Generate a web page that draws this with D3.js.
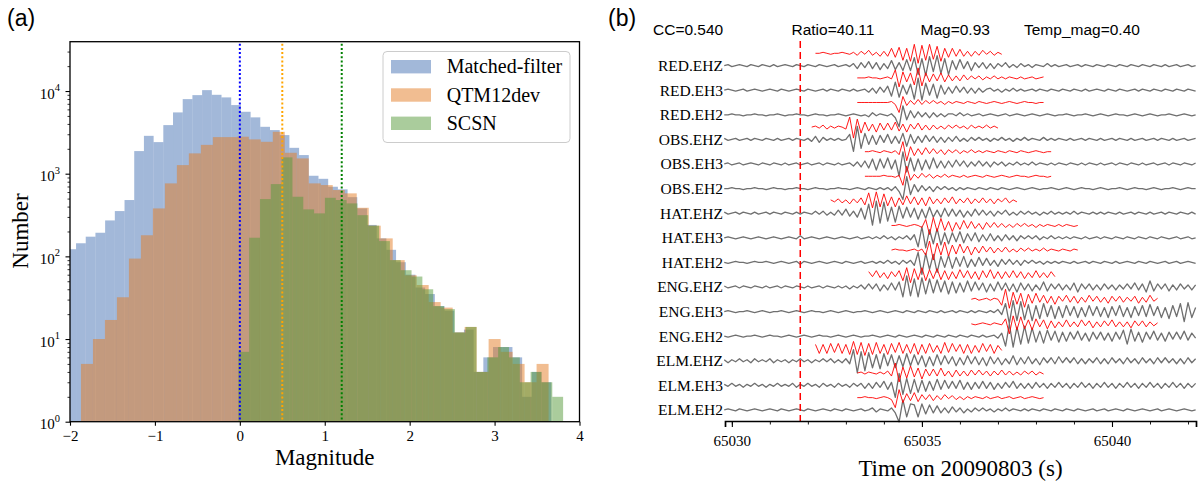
<!DOCTYPE html>
<html>
<head>
<meta charset="utf-8">
<script src="https://cdn.jsdelivr.net/npm/d3@7"></script>
<style>
  body { margin: 0; background: #fff; }
  svg { display: block; }
</style>
</head>
<body>
<div id="fig"></div>
<script>
// ---------- panel (a): magnitude histograms ----------
const seriesNames = ["Matched-filter", "QTM12dev", "SCSN"];

// bin start (magnitude) and bin width of each histogram
const blueStart = -2.043, blueWidth = 0.1142;
const orangeStart = -1.871, orangeWidth = 0.1412;
const greenStart = -0.018, greenWidth = 0.1275;

const blueCounts = [122,144,173,193,272,353,480,1877,2870,2410,3870,5510,7980,8920,10250,9000,8370,6760,5610,4800,
  3690,3370,2930,2055,1680,944,867,695,646,520,380,240,165,120,85,60,42,35,25,22,12,13,4,6,8,8,6,2,4,3];
const orangeCounts = [5,10,17,32,94,180,380,763,1270,1760,2230,2770,2770,2800,2600,2430,3210,1790,1530,763,
  728,634,578,387,235,165,90,59,45,28,24,12,14,4,10,7,5,3,5];
const greenCounts = [7,168,493,748,1575,526,370,331,511,480,437,315,235,153,90,68,57,40,25,23,12,14,4,6,8,6,3,4,3,2];

// completeness magnitudes (dotted lines)
const mcValues = [0.0, 0.5, 1.2];
const xTicksA = [-2, -1, 0, 1, 2, 3, 4];
const yMajorA = [1, 10, 100, 1000, 10000];

// ---------- panel (b): waveforms ----------
const stations = ["RED.EHZ","RED.EH3","RED.EH2","OBS.EHZ","OBS.EH3","OBS.EH2","HAT.EHZ","HAT.EH3","HAT.EH2",
  "ENG.EHZ","ENG.EH3","ENG.EH2","ELM.EHZ","ELM.EH3","ELM.EH2"];
const headerText = ["CC=0.540", "Ratio=40.11", "Mag=0.93", "Temp_mag=0.40"];
const detectTime = 65031.8;
const xTicksB = [65030, 65035, 65040];

// continuous data: start 65029.8 s, 0.1 s samples
const wfStart = 65029.8, wfDt = 0.1;
const wf_RED_EHZ = [0,1,-1,0,1,0,-1,1,0,-1, 1,0,-1,1,-1,0,1,0,-1,1, 0,-1,1,0,-1,1,0,-1,0,1, -1,0,1,-1,2,-3,3,-2,4,-3, 3,-4,2,-3,5,-4,3,-5,6,-5, 8,-9,7,-10,9,-6,10,-8,7,-9, 5,-4,6,-3,4,-5,3,-2,3,-3, 2,-3,2,-1,3,-2,1,-2,2,-1, 1,-2,1,0,-1,2,-1,1,-1,0, 1,-1,0,1,-1,1,0,-1,1,0, -1,1,0,-1,1,0,-1,1,0,-1, 1,0,-1,1,0,-1,1,-1,0,1, -1,0,1,-1,0];
const wf_RED_EH3 = [0,1,0,-1,0,1,-1,0,1,0, -1,0,1,0,-1,1,0,-1,0,1, 0,-1,1,0,-1,0,1,-1,1,0, -1,1,0,-1,1,-1,0,1,-2,2, -3,3,-2,4,-6,8,-7,5,-4,6, -9,12,-10,7,-5,6,-8,5,-4,3, -3,4,-2,3,-3,2,-3,2,-2,1, 2,-1,1,-2,1,-1,2,-1,1,-1, 0,1,-1,1,0,-1,1,0,-1,1, 0,-1,1,0,-1,1,-1,0,1,0, -1,1,0,-1,1,0,-1,0,1,-1, 1,0,-1,1,0,-1,1,0,-1,1, 0,-1,1,0,-1];
const wf_RED_EH2 = [0,0,1,0,0,-1,0,0,1,0, 0,-1,0,0,1,0,-1,0,0,1, 0,0,-1,0,1,0,0,-1,0,0, 1,0,-1,0,1,0,-1,0,-2,2, -1,1,0,-1,1,-3,-12,9,-5,4, -3,3,-2,2,-3,2,-2,1,-2,1, 1,-1,2,-1,1,-1,0,1,-1,0, 1,0,-1,0,1,-1,0,1,0,-1, 0,1,0,-1,0,1,0,-1,0,0, 1,0,-1,0,0,1,0,-1,0,1, 0,-1,0,1,0,0,-1,0,1,0, -1,0,1,0,-1,0,0,1,0,-1, 0,1,0,-1,0];
const wf_OBS_EHZ = [1,-1,0,1,-1,0,1,-1,1,0, -1,1,0,-1,1,-1,0,1,-1,1, 0,-1,1,-2,3,-3,2,-1,1,-1, 1,-1,0,5,-12,13,-9,6,-5,4, -5,4,-3,5,-4,3,-4,6,-7,5, -4,3,-3,4,-2,3,-3,2,-3,2, -2,3,-2,1,-2,2,-1,2,-1,1, -2,1,-1,2,-1,1,-2,1,-1,2, -1,1,0,-1,2,-1,1,-1,1,0, -1,1,-1,0,1,-1,1,0,-1,1, -1,0,1,-1,1,0,-1,1,-1,0, 1,-1,0,1,-1,1,0,-1,1,-1, 0,1,-1,0,1];
const wf_OBS_EH3 = [0,1,-1,0,1,-1,0,1,0,-1, 1,0,-1,1,0,-1,1,-1,0,1, -1,0,1,-1,0,1,-1,1,0,-1, 1,-1,0,1,-2,2,-3,3,-4,5, -6,5,-4,6,-5,4,-12,12,-8,6, -7,5,-6,4,-5,6,-4,3,-4,3, -3,4,-2,3,-3,2,-2,3,-2,2, -3,2,-1,2,-2,1,-1,2,-1,1, -1,2,-1,1,0,-1,1,-1,1,0, -1,1,0,-1,1,-1,1,0,-1,1, -1,0,1,-1,1,0,-1,1,0,-1, 1,-1,0,1,-1,0,1,-1,1,0, -1,1,0,-1,1];
const wf_OBS_EH2 = [0,0,1,0,0,-1,0,0,1,0, 0,-1,0,1,0,0,-1,0,0,1, 0,0,-1,0,1,0,0,-1,0,0, 1,0,0,-1,0,1,0,-1,1,0, -1,1,-1,1,-2,2,-3,-11,12,-6, 4,-3,3,-2,2,-3,2,-1,2,-1, 1,-2,1,-1,1,0,-1,1,0,-1, 1,0,-1,1,0,-1,0,1,0,-1, 0,1,0,-1,0,0,1,0,-1,0, 1,0,-1,0,1,0,0,-1,0,1, 0,-1,0,0,1,0,-1,0,1,0, 0,-1,0,1,0,-1,0,0,1,0, -1,0,1,0,0];
const wf_HAT_EHZ = [1,-1,0,1,-1,1,0,-1,1,-1, 0,1,-1,1,0,-1,1,0,-1,1, -1,1,0,-1,2,-1,2,-2,1,-2, 3,-2,4,-3,2,-4,5,-6,9,-12, 12,-10,11,-8,6,-9,7,-5,6,-4, 5,-6,4,-5,6,-4,3,-4,5,-3, 4,-3,3,-4,2,-3,4,-2,3,-2, 2,-3,2,-1,3,-2,1,-2,2,-1, 2,-1,1,-2,1,-1,2,-1,1,-1, 1,-1,2,-1,1,0,-1,1,-1,1, -1,1,0,-1,1,-1,0,1,-1,1, 0,-1,1,-1,0,1,-1,1,0,-1, 1,0,-1,1,-1];
const wf_HAT_EH3 = [0,1,0,-1,0,1,0,-1,0,1, 0,-1,0,1,0,-1,0,1,0,-1, 2,-1,0,1,0,-1,0,1,0,-1, 0,1,0,-1,0,1,-1,0,1,-1, 1,-1,2,-1,1,-2,1,-1,2,-2, 3,-9,11,-10,8,-6,9,-7,5,-6, 5,-4,6,-5,4,-3,5,-4,3,-3, 4,-3,2,-3,3,-2,2,-3,2,-1, 2,-1,2,-2,1,-1,2,-1,1,-1, 1,-1,1,0,-1,1,-1,0,1,-1, 1,0,-1,1,0,-1,1,0,-1,1, 0,-1,1,0,-1,1,0,-1,0,1, -1,0,1,-1,0];
const wf_HAT_EH2 = [0,-1,0,1,0,0,-1,0,1,0, 0,1,0,-1,0,1,0,-1,0,1, -2,1,0,-1,0,1,0,-1,0,1, 0,-1,1,0,-1,0,1,-1,0,1, -1,1,-1,2,-1,1,-2,2,-1,2, -3,10,-12,9,-7,8,-10,6,-5,7, -6,5,-4,6,-5,3,-4,5,-3,4, -3,2,-4,3,-2,3,-2,2,-3,2, -1,2,-1,1,-2,1,-1,1,-1,1, 0,-1,1,-1,0,1,-1,1,0,-1, 1,0,-1,1,-1,0,1,0,-1,1, 0,-1,1,0,-1,0,1,-1,0,1, -1,0,1,0,-1];
const wf_ENG_EHZ = [1,-1,0,1,-1,1,0,-1,1,0, -1,1,-1,0,1,-1,1,0,-1,1, 0,-1,1,-1,0,1,-1,1,0,-1, 1,-1,1,-2,1,-1,2,-2,3,-2, 3,-4,2,-3,4,-3,5,-10,11,-9, 8,-10,9,-7,8,-6,7,-5,6,-7, 5,-6,4,-5,6,-4,5,-3,4,-5, 3,-4,5,-3,4,-4,3,-5,4,-3, 3,-4,2,-3,5,-4,3,-2,3,-3, 2,-3,4,-5,3,-2,3,-3,2,-3, 3,-2,2,-3,2,-2,3,-2,4,-3, 3,-5,6,-4,3,-2,3,-4,2,-3, 3,-2,2,-3,2];
const wf_ENG_EH3 = [0,1,0,-1,0,0,1,0,-1,0, 1,0,-1,0,0,1,0,-1,0,1, 0,-1,0,1,0,0,-1,0,1,0, -1,0,1,0,-1,0,0,1,0,-1, 0,1,0,-1,0,1,0,-1,1,0, -1,1,0,-1,1,0,-1,1,-1,0, 1,-1,1,0,-1,1,-1,1,0,-1, 1,-1,2,-3,8,-12,11,-9,10,-8, 7,-9,6,-7,8,-5,6,-7,5,-6, 6,-4,5,-6,4,-5,6,-4,5,-5, 4,-6,5,-4,6,-5,4,-6,5,-4, 6,-5,7,-4,5,-6,4,-7,6,-5, 8,-10,9,-6,4];
const wf_ENG_EH2 = [0,-1,0,1,0,-1,0,0,1,0, -1,0,1,0,0,-1,0,1,0,-1, 0,1,0,-1,0,1,0,0,-1,0, 1,0,-1,0,1,0,-1,0,0,1, 0,-1,0,1,0,-1,1,0,-1,0, 1,0,-1,1,0,-1,1,0,-1,1, 0,-1,1,0,-1,1,0,-1,1,-1, 0,1,-2,3,-10,12,-11,9,-8,10, -7,8,-6,5,-7,6,-4,5,-6,4, -5,4,-3,5,-4,3,-5,4,-3,4, -4,3,-5,4,-3,6,-8,7,-5,4, -6,4,-3,5,-4,3,-5,4,-3,4, -3,5,-4,3,-2];
const wf_ELM_EHZ = [1,-2,1,-1,2,-1,1,-2,2,-1, 1,-1,2,-2,1,-1,1,-2,1,-1, 2,-1,1,-2,1,-1,2,-1,2,-2, 1,-2,2,-3,11,-12,9,-10,8,-7, 6,-8,7,-5,6,-7,5,-6,7,-5, 6,-4,5,-6,4,-5,6,-4,5,-3, 4,-5,3,-4,5,-3,4,-4,3,-5, 4,-3,3,-4,2,-3,5,-4,3,-3, 4,-3,2,-4,3,-2,3,-3,4,-2, 3,-2,3,-3,2,-3,2,-2,3,-3, 2,-3,3,-2,2,-3,3,-2,2,-3, 3,-2,2,-3,3,-2,3,-2,2,-3, 2,-3,3,-2,2];
const wf_ELM_EH3 = [1,-1,2,-1,1,-2,1,-1,2,-1, 1,-2,1,-1,2,-1,1,-1,2,-2, 1,-1,2,-1,1,-2,2,-1,1,-2, 2,-1,1,-2,2,-1,2,-3,2,-3, 3,-2,4,-4,3,-12,12,-9,7,-8, 6,-7,5,-6,4,-5,6,-4,5,-3, 4,-3,5,-4,3,-4,3,-3,4,-3, 3,-4,2,-3,3,-2,4,-3,2,-3, 2,-3,3,-2,2,-3,2,-2,3,-2, 2,-3,2,-2,3,-2,2,-3,2,-2, 3,-2,2,-3,2,-2,3,-2,2,-3, 2,-2,3,-2,2,-3,2,-2,3,-2, 2,-3,2,-2,2];
const wf_ELM_EH2 = [0,1,0,-1,1,0,-1,0,1,0, -1,0,1,0,-1,1,0,-1,0,1, 0,-1,1,0,-1,0,1,0,-1,1, 0,-1,1,0,-1,0,1,-1,0,2, -2,1,0,-1,2,-3,-12,10,-7,6, 5,-7,6,-4,5,-3,4,-3,2,-3, 3,-2,2,-3,1,-2,2,-1,2,-1, 1,-2,1,-1,2,-1,1,0,-1,1, -1,1,0,-1,1,0,-1,1,0,-1, 1,0,-1,1,0,-1,0,1,-1,0, 1,-1,0,1,0,-1,1,0,-1,0, 1,0,-1,0,1,-1,0,1,0,-1, 0,1,0,-1,0];

// templates: 0.1 s samples, start times per station
const tpStart = [65032.2,65033.3,65033.3,65032.1,65033.5,65033.5,65032.6,65034.2,65034.2,65033.6,65036.3,65036.3,65032.2,65033.3,65033.3];
const tp_RED_EHZ = [0,0,1,0,-1,0,0,1,0,-1, 1,-2,2,-1,3,-2,1,-3,2,-3, 5,-4,6,-7,5,-8,9,-10,8,-7, 9,-6,7,-8,5,-4,5,-3,4,-3, 2,-3,2,-2,3,-1,2,-2,1,-1];
const tp_RED_EH3 = [0,0,0,1,0,0,-1,0,1,-1, 8,-9,6,-4,5,-7,10,-8,5,-4, 4,-3,5,-4,3,-3,2,-3,3,-2, 2,-1,2,-2,1,-1,2,-1,1,-1, 1,0,-1,1,-1,0,1,-1,0,1];
const tp_RED_EH2 = [0,0,0,0,0,0,0,0,0,1, -2,-10,6,-3,2,-2,3,-2,2,-1, 2,-1,1,-2,1,-1,1,0,-1,1, 0,-1,1,0,-1,0,1,0,-1,0, 1,0,-1,0,1,0,0,-1,0,0];
const tp_OBS_EHZ = [0,1,-1,2,-2,1,-1,1,0,-2, 10,-11,8,-6,5,-4,3,-5,4,-3, 4,-3,5,-4,3,-5,3,-2,4,-3, 2,-3,2,-2,1,-2,2,-1,2,-1, 1,-2,2,-1,1,-1,2,-1,1,-1];
const tp_OBS_EH3 = [0,0,1,0,-1,1,0,-1,1,-3, 10,-9,5,-4,3,-3,4,-2,3,-2, 2,-3,2,-1,2,-2,1,-1,2,-1, 1,-1,1,0,-1,1,0,-1,1,0, -1,1,0,-1,0,1,0,-1,0,0];
const tp_OBS_EH2 = [0,0,0,0,0,1,0,0,-1,1, -9,10,-4,2,-2,3,-1,2,-2,1, -1,2,-1,1,0,-1,1,-1,0,1, 0,-1,1,0,-1,0,1,0,-1,0, 1,0,0,-1,0,1,0,0,-1,0];
const tp_HAT_EHZ = [1,-1,2,-2,1,-3,2,-2,3,-4, 8,-7,9,-6,7,-5,4,-6,3,-4, 5,-3,4,-4,3,-5,4,-3,2,-3, 3,-2,4,-3,2,-2,3,-3,2,-2, 3,-2,2,-3,2,-1,3,-2,1,-1];
const tp_HAT_EH3 = [0,0,1,0,-1,0,1,0,-2,6, -9,8,-6,7,-5,4,-6,3,-4,5, -3,4,-3,2,-4,3,-2,3,-2,2, -2,1,-2,2,-1,2,-1,1,-2,1, -1,1,0,-1,1,-1,1,0,-1,0];
const tp_HAT_EH2 = [0,1,0,0,-1,0,1,-1,1,-5, 9,-10,7,-5,8,-6,5,-4,6,-3, 4,-5,3,-3,4,-2,3,-3,2,-2, 3,-2,1,-2,2,-1,2,-1,1,-1, 2,-1,1,0,-1,1,0,-1,1,0];
const tp_ENG_EHZ = [3,-2,4,-3,2,-4,3,-2,4,-6, 7,-8,6,-5,7,-6,5,-4,6,-5, 4,-5,3,-4,5,-3,4,-4,3,-5, 4,-3,5,-4,3,-4,3,-3,4,-3, 3,-4,2,-3,4,-3,2,-3,3,-2];
const tp_ENG_EH3 = [0,1,-1,0,1,-1,1,0,-6,10, -9,7,-5,6,-8,5,-4,6,-3,4, -4,3,-5,3,-2,4,-3,3,-4,2, -3,4,-2,3,-3,2,-4,3,-2,3, -3,2,-2,3,-4,2,-3,4,-2,1];
const tp_ENG_EH2 = [0,-1,0,1,0,-1,1,0,-1,5, -10,8,-6,7,-5,4,-6,5,-3,4, -5,3,-4,2,-3,4,-3,2,-3,4, -2,3,-4,2,-3,3,-2,4,-3,2, -3,2,-4,3,-2,3,-3,2,-2,1];
const tp_ELM_EHZ = [4,-5,4,-5,5,-4,5,-5,4,-6, 7,-6,6,-7,5,-6,6,-5,4,-6, 5,-4,6,-5,4,-5,5,-6,4,-5, 5,-4,3,-5,6,-4,5,-3,4,-5, 4,-5,3,-4,5,-3,4,-5,3,-2];
const tp_ELM_EH3 = [0,1,-1,1,0,-1,1,-1,2,-3, 10,-9,6,-5,7,-4,5,-6,4,-3, 4,-3,5,-3,2,-4,3,-3,2,-3, 3,-2,3,-2,2,-3,2,-2,3,-2, 2,-2,1,-2,2,-1,2,-2,1,-1];
const tp_ELM_EH2 = [0,0,1,0,0,-1,0,1,0,-2, -10,8,-5,4,-3,5,-4,3,-2,3, -3,2,-2,3,-1,2,-2,1,-2,1, -1,1,0,-1,1,-1,0,1,-1,0, 1,-1,0,1,-1,0,1,0,-1,0];

const waveforms = [wf_RED_EHZ,wf_RED_EH3,wf_RED_EH2,wf_OBS_EHZ,wf_OBS_EH3,wf_OBS_EH2,wf_HAT_EHZ,wf_HAT_EH3,wf_HAT_EH2,
  wf_ENG_EHZ,wf_ENG_EH3,wf_ENG_EH2,wf_ELM_EHZ,wf_ELM_EH3,wf_ELM_EH2];
const templates = [tp_RED_EHZ,tp_RED_EH3,tp_RED_EH2,tp_OBS_EHZ,tp_OBS_EH3,tp_OBS_EH2,tp_HAT_EHZ,tp_HAT_EH3,tp_HAT_EH2,
  tp_ENG_EHZ,tp_ENG_EH3,tp_ENG_EH2,tp_ELM_EHZ,tp_ELM_EH3,tp_ELM_EH2];

// ---------- drawing ----------
const serif = "'Liberation Serif','Times New Roman',serif";
const sans = "'Liberation Sans',Arial,Helvetica,sans-serif";

const svg = d3.select("#fig").append("svg")
    .attr("width", 1199)
    .attr("height", 483)
    .style("font-family", serif);

// panel a scales
const xa = d3.scaleLinear().domain([-2, 4]).range([70, 579.5]);
const ya = d3.scaleLog().domain([1, 39500]).range([421.7, 41.7]);

svg.append("clipPath").attr("id", "clipA")
  .append("rect")
    .attr("x", xa(-2)).attr("y", ya(39500))
    .attr("width", xa(4) - xa(-2)).attr("height", ya(1) - ya(39500));

const plotA = svg.append("g").attr("clip-path", "url(#clipA)");

const hists = [
  {start: blueStart, width: blueWidth, counts: blueCounts, color: "#4571b3"},
  {start: orangeStart, width: orangeWidth, counts: orangeCounts, color: "#e47c23"},
  {start: greenStart, width: greenWidth, counts: greenCounts, color: "#559a3a"}
];

hists.forEach(h => {
  plotA.append("g")
    .selectAll("rect")
    .data(h.counts)
    .join("rect")
      .attr("x", (d, i) => xa(h.start + i * h.width))
      .attr("width", (d, i) => xa(h.start + (i + 1) * h.width) - xa(h.start + i * h.width))
      .attr("y", d => ya(d))
      .attr("height", d => ya(1) - ya(d))
      .attr("fill", h.color)
      .attr("fill-opacity", 0.5);
});

// dotted completeness lines
const mcColors = ["#0000ff", "#ffa500", "#008000"];
plotA.selectAll("line.mc")
  .data(mcValues)
  .join("line")
    .attr("class", "mc")
    .attr("x1", d => xa(d)).attr("x2", d => xa(d))
    .attr("y1", ya(39500) + 2).attr("y2", ya(1))
    .attr("stroke", (d, i) => mcColors[i])
    .attr("stroke-width", 2)
    .attr("stroke-dasharray", "2,2.2");

// x axis
const xAxisA = svg.append("g")
    .attr("transform", `translate(0,${ya(1)})`)
    .call(d3.axisBottom(xa).tickValues(xTicksA).tickSize(4).tickPadding(5)
      .tickFormat(d => d < 0 ? "\u2212" + (-d) : d));
xAxisA.select(".domain").remove();
xAxisA.attr("font-family", serif).attr("font-size", 15);
xAxisA.selectAll("line").attr("stroke-width", 1.1);

// y axis (log) with minor ticks
const yMinorA = [];
yMajorA.forEach(m => d3.range(2, 10).forEach(k => { if (m * k <= 39500) yMinorA.push(m * k); }));

const yAxisA = svg.append("g")
    .attr("transform", `translate(${xa(-2)},0)`)
    .call(d3.axisLeft(ya).tickValues(yMajorA).tickSize(4.5).tickFormat(""));
yAxisA.select(".domain").remove();
yAxisA.selectAll("line").attr("stroke-width", 1.1);

const yMinorAxisA = svg.append("g")
    .attr("transform", `translate(${xa(-2)},0)`)
    .call(d3.axisLeft(ya).tickValues(yMinorA).tickSize(2.5).tickFormat(""));
yMinorAxisA.select(".domain").remove();
yMinorAxisA.selectAll("line").attr("stroke-width", 0.8);

svg.append("g")
  .selectAll("text")
  .data(yMajorA)
  .join("text")
    .attr("x", 60)
    .attr("y", d => ya(d) + 7.5)
    .attr("text-anchor", "end")
    .attr("font-size", 15)
    .call(t => {
      t.append("tspan").text("10");
      t.append("tspan").attr("dy", -7.5).attr("font-size", 10.5).text(d => Math.round(Math.log10(d)));
    });

// frame
svg.append("rect")
    .attr("x", xa(-2)).attr("y", ya(39500))
    .attr("width", xa(4) - xa(-2)).attr("height", ya(1) - ya(39500))
    .attr("fill", "none").attr("stroke", "#000").attr("stroke-width", 1.3);

// legend
const legend = svg.append("g");
legend.append("rect")
    .attr("x", 383).attr("y", 51.5).attr("width", 187).attr("height", 91).attr("rx", 4)
    .attr("fill", "#fff").attr("fill-opacity", 0.8)
    .attr("stroke", "#cccccc").attr("stroke-width", 1);
const legendRows = legend.selectAll("g.row")
  .data(hists)
  .join("g")
    .attr("class", "row")
    .attr("transform", (d, i) => `translate(391,${66.7 + i * 28.3})`);
legendRows.append("rect")
    .attr("x", 0).attr("y", -6.7).attr("width", 40).attr("height", 13.4)
    .attr("fill", d => d.color).attr("fill-opacity", 0.5);
legendRows.append("text")
    .attr("x", 55.7).attr("y", 6.5)
    .attr("font-size", 20)
    .text((d, i) => seriesNames[i]);

// axis labels
svg.append("text")
    .attr("x", (xa(-2) + xa(4)) / 2).attr("y", 465)
    .attr("text-anchor", "middle").attr("font-size", 23)
    .text("Magnitude");
svg.append("text")
    .attr("transform", "translate(28,231) rotate(-90)")
    .attr("text-anchor", "middle").attr("font-size", 23)
    .text("Number");

svg.append("text").attr("x", 7).attr("y", 26).attr("font-family", sans).attr("font-size", 23).text("(a)");
svg.append("text").attr("x", 608).attr("y", 26).attr("font-family", sans).attr("font-size", 23).text("(b)");

// ---------- panel b ----------
const xb = d3.scaleLinear().domain([65029.82, 65042.21]).range([725, 1196]);
const yb = d3.scaleLinear().domain([-0.45, 15]).range([421, 41]);
const gain = 1 / 24.6;   // one sample unit in trace spacing
const nSta = stations.length;

svg.append("clipPath").attr("id", "clipB")
  .append("rect").attr("x", 724).attr("y", 30).attr("width", 474).attr("height", 395);
const plotB = svg.append("g").attr("clip-path", "url(#clipB)");

const grayLine = (pos) => d3.line()
    .x((v, j) => xb(wfStart + j * wfDt))
    .y(v => yb(pos + v * gain));

waveforms.forEach((w, i) => {
  plotB.append("path")
      .datum(w)
      .attr("d", grayLine(nSta - 1 - i))
      .attr("fill", "none")
      .attr("stroke", "#6f6f6f")
      .attr("stroke-width", 1.3)
      .attr("stroke-linejoin", "round");
});

templates.forEach((w, i) => {
  const pos = nSta - 1 - i + 0.5;
  plotB.append("path")
      .datum(w)
      .attr("d", d3.line()
        .x((v, j) => xb(tpStart[i] + j * wfDt))
        .y(v => yb(pos + v * gain)))
      .attr("fill", "none")
      .attr("stroke", "#ff0000")
      .attr("stroke-width", 0.9)
      .attr("stroke-linejoin", "round");
});

// detection time
svg.append("line")
    .attr("x1", xb(detectTime)).attr("x2", xb(detectTime))
    .attr("y1", 41).attr("y2", yb(-0.45))
    .attr("stroke", "#ff0000").attr("stroke-width", 1.5)
    .attr("stroke-dasharray", "7,4");

// station labels
svg.append("g")
  .selectAll("text")
  .data(stations)
  .join("text")
    .attr("x", 723)
    .attr("y", (d, i) => yb(nSta - 1 - i))
    .attr("dy", "0.35em")
    .attr("text-anchor", "end")
    .attr("font-size", 15.5)
    .text(d => d);

// time axis
const xAxisB = svg.append("g")
    .attr("transform", `translate(0,${yb(-0.45)})`)
    .call(d3.axisBottom(xb).tickValues(xTicksB).tickSize(6).tickPadding(8).tickFormat(d3.format("d")));
xAxisB.attr("font-family", serif).attr("font-size", 15);
xAxisB.select(".domain").attr("stroke-width", 1.7);
xAxisB.selectAll("line").attr("stroke-width", 1.1);

const xMinorB = svg.append("g")
    .attr("transform", `translate(0,${yb(-0.45)})`)
    .call(d3.axisBottom(xb).tickValues(d3.range(65030, 65043)).tickSize(3.5).tickFormat(""));
xMinorB.select(".domain").remove();
xMinorB.selectAll("line").attr("stroke-width", 0.9);

svg.append("text")
    .attr("x", (xb.range()[0] + xb.range()[1]) / 2).attr("y", 476)
    .attr("text-anchor", "middle").attr("font-size", 23)
    .text("Time on 20090803 (s)");

// header
const headerX = [653, 791.5, 920.5, 1024];
svg.append("g")
  .selectAll("text")
  .data(headerText)
  .join("text")
    .attr("x", (d, i) => headerX[i])
    .attr("y", 35)
    .attr("font-family", sans)
    .attr("font-size", 15.5)
    .text(d => d);
</script>
</body>
</html>
